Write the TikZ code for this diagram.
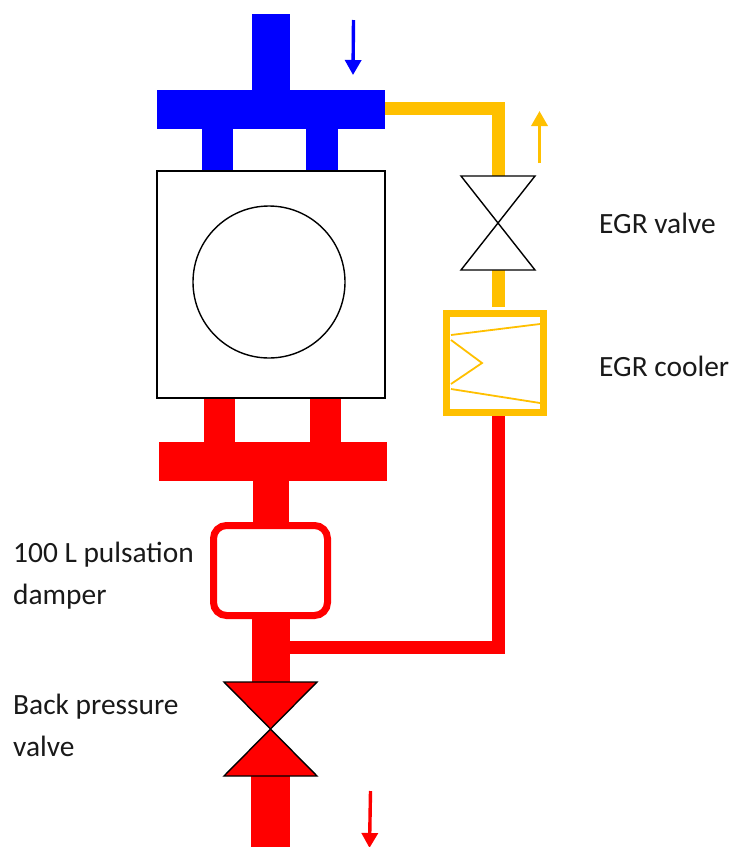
\documentclass[tikz,border=0pt]{standalone}
\usepackage{fontspec}
\setmainfont{Carlito}
\usetikzlibrary{arrows.meta}
\definecolor{egr}{HTML}{FFC000}
\tikzset{
  x=1pt,y=-1pt,
  pipe/.style={line width=#1,line cap=butt},
  block/.style={rectangle,inner sep=0pt,outer sep=0pt,draw=none,fill=#1},
  lbl/.style={anchor=base west,inner sep=0pt,font=\fontsize{29.4}{29.4}\selectfont,text=black!90},
  valveline/.style={draw=black,line width=1.4pt,line join=miter},
  flow/.style={line width=3.4pt,draw=#1,-{Triangle[length=15pt,width=16pt,fill=#1]}}
}
\newcommand{\blk}[6]{\node[block=#1,minimum width=#4 pt - #2 pt,minimum height=#5 pt - #3 pt] (#6) at ({(#2+#4)/2},{(#3+#5)/2}) {};}
\begin{document}
\begin{tikzpicture}
\useasboundingbox (0,0) rectangle (731,847);
% blue intake
\blk{blue}{252}{14}{290}{91}{bi}
\blk{blue}{157}{90}{385}{129}{bb}
\blk{blue}{202}{128}{233}{172}{bs1}
\blk{blue}{306}{128}{338}{172}{bs2}
% red exhaust
\blk{red}{204}{397}{235}{443}{rs1}
\blk{red}{310}{397}{341}{443}{rs2}
\blk{red}{159}{442}{387}{481}{rb}
\blk{red}{253}{480}{289}{525}{rv1}
\blk{red}{252}{616}{290}{683}{rv2}
\blk{red}{251}{775}{290}{847}{rv3}
% engine
\node[rectangle,draw=black,line width=1.4pt,fill=white,inner sep=0pt,minimum width=228pt,minimum height=227pt] (engine) at (271,284.5) {};
\node[circle,draw=black,line width=1.4pt,inner sep=0pt,minimum size=152pt] (cyl) at (269,282) {};
% damper
\node[rectangle,draw=red,line width=7pt,fill=white,rounded corners=13pt,inner sep=0pt,minimum width=114pt,minimum height=90pt] (damper) at (270.5,570.5) {};
% EGR route
\coordinate (e1) at (385,108.5);
\coordinate (e2) at (498.5,108.5);
\node[inner sep=0pt,minimum size=0pt] (evalve) at (498,223) {};
\node[rectangle,draw=egr,line width=7pt,fill=white,inner sep=0pt,minimum width=97pt,minimum height=99pt] (cooler) at (495,363) {};
\draw[pipe=13pt,draw=egr] (e1) -- (e2) -- ++(0,6) -- (498.5,177);
\draw[pipe=13pt,draw=egr] (498.5,269) -- (498.5,307);
\coordinate (r1) at (498.5,416);
\coordinate (r2) at (498.5,647);
\coordinate (r3) at (290,647);
\draw[pipe=13pt,draw=red,line join=miter] (r1) -- (r2) -- (r3);
% cooler inner
\draw[egr,line width=1.8pt] (451,335) -- (540,324);
\draw[egr,line width=1.8pt] (451,389) -- (540,403);
\draw[egr,line width=1.8pt] (451,340) -- (482,363) -- (451,384);
% valves
\coordinate (ev1) at (461,176); \coordinate (ev2) at (535,176);
\coordinate (ev3) at (461,270); \coordinate (ev4) at (535,270);
\draw[valveline,fill=white] (ev1) -- (ev2) -- (ev3) -- (ev4) -- cycle;
\coordinate (bp1) at (224,682); \coordinate (bp2) at (317,682);
\coordinate (bp3) at (224,776); \coordinate (bp4) at (317,776);
\draw[valveline,fill=red] (bp1) -- (bp2) -- (bp3) -- (bp4) -- cycle;
% flow arrows
\coordinate (a1) at (353.5,20); \coordinate (a2) at (353,75);
\draw[flow=blue] (a1) -- (a2);
\coordinate (a3) at (539.5,163); \coordinate (a4) at (539.5,111);
\draw[flow=egr] (a3) -- (a4);
\coordinate (a5) at (370.5,791); \coordinate (a6) at (369.5,848);
\draw[flow=red] (a5) -- (a6);
% labels
\node[lbl] (l1) at (599,233) {EGR valve};
\node[lbl] (l2) at (599,376) {EGR cooler};
\node[lbl] (l3) at (13,562) {100 L pulsation};
\node[lbl] (l4) at (13,604) {damper};
\node[lbl] (l5) at (13,714) {Back pressure};
\node[lbl] (l6) at (13,756) {valve};
\end{tikzpicture}
\end{document}
